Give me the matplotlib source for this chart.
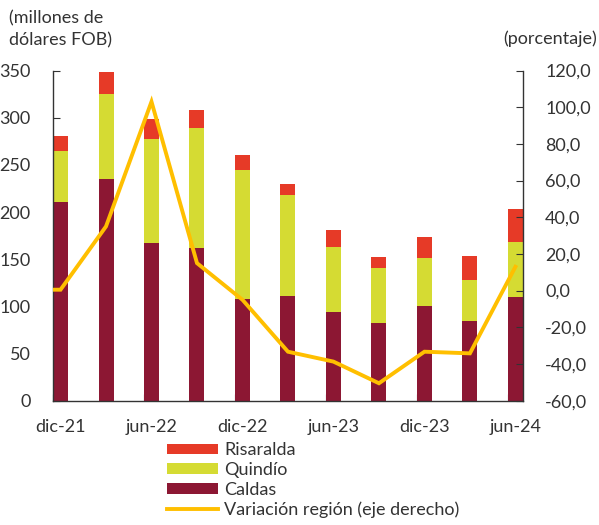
import matplotlib.pyplot as plt
from matplotlib.patches import Patch
from matplotlib.lines import Line2D
import numpy as np

plt.rcParams['font.family'] = ['Lato', 'DejaVu Sans']

periodos = ['dic-21', 'mar-22', 'jun-22', 'sep-22', 'dic-22', 'mar-23',
            'jun-23', 'sep-23', 'dic-23', 'mar-24', 'jun-24']
caldas = [211, 235, 167, 162, 108, 111, 94, 82, 100, 84, 110]
quindio = [54, 90, 110, 127, 137, 107, 69, 59, 51, 44, 58]
risaralda = [16, 23, 22, 19, 15, 12, 18, 11, 22, 25, 35]
variacion = [0.5, 35.0, 103.0, 15.0, -5.0, -33.3, -38.7, -50.5, -33.3, -34.2, 13.0]

c_caldas = '#8C1733'
c_quindio = '#D5DB33'
c_risaralda = '#E63A27'
c_linea = '#FFBF00'
c_texto = '#333333'

fig = plt.figure(figsize=(5.99, 5.25), dpi=100)
ax = fig.add_axes([0.0885, 0.2368, 0.7845, 0.6289])
ax2 = ax.twinx()

x = np.arange(len(periodos))
w = 0.33
caldas = np.array(caldas)
quindio = np.array(quindio)
risaralda = np.array(risaralda)
ax.bar(x, caldas, w, color=c_caldas, zorder=2)
ax.bar(x, quindio, w, bottom=caldas, color=c_quindio, zorder=2)
ax.bar(x, risaralda, w, bottom=caldas + quindio, color=c_risaralda, zorder=2)

# the line starts flat at the left axis, as in the original
ax2.plot(np.r_[-w / 2, x], np.r_[variacion[0], variacion], color=c_linea,
         lw=2.8, solid_joinstyle='miter', zorder=3)

ax.set_xlim(-w / 2, len(x) - 1 + w / 2)
ax.set_ylim(0, 350)
ax.set_yticks(np.arange(0, 351, 50))
ax2.set_ylim(-60, 120)
ax2.set_yticks(np.arange(-60, 121, 20))
ax2.set_yticklabels([f'{v:.1f}'.replace('.', ',') for v in np.arange(-60, 121, 20)])

# tick marks at the left edge of every second bar, labels under the bars
ax.set_xticks(x[::2] - w / 2)
ax.set_xticklabels([])
ax.set_xticks(x[::2], minor=True)
ax.set_xticklabels(periodos[::2], minor=True)
ax.tick_params(axis='x', which='major', direction='in', length=5, color=c_texto)
ax.tick_params(axis='x', which='minor', length=0, pad=13, labelsize=13, labelcolor=c_texto)
ax.tick_params(axis='y', direction='in', length=5, pad=16, labelsize=13,
               labelcolor=c_texto, color=c_texto)
ax2.tick_params(axis='y', direction='in', length=5, pad=16, labelsize=13,
                labelcolor=c_texto, color=c_texto)

for a in (ax, ax2):
    a.spines['top'].set_visible(False)
    for s in ('left', 'right', 'bottom'):
        a.spines[s].set_color(c_texto)
        a.spines[s].set_linewidth(1.0)
ax.spines['right'].set_visible(False)
ax2.spines['left'].set_visible(False)
ax2.spines['bottom'].set_visible(False)

fig.text(0.015, 0.98, '(millones de\ndólares FOB)', ha='left', va='top',
         fontsize=13, color=c_texto, linespacing=1.45)
fig.text(0.997, 0.927, '(porcentaje)', ha='right', va='center',
         fontsize=13, color=c_texto)

handles = [Patch(facecolor=c_risaralda), Patch(facecolor=c_quindio),
           Patch(facecolor=c_caldas), Line2D([0], [0], color=c_linea, lw=2.8)]
labels = ['Risaralda', 'Quindío', 'Caldas', 'Variación región (eje derecho)']
fig.legend(handles, labels, loc='upper left', bbox_to_anchor=(0.2788, 0.1573),
           frameon=False, fontsize=13, labelcolor=c_texto, handlelength=2.85,
           handleheight=0.55, handletextpad=0.3, labelspacing=0.2,
           borderpad=0, borderaxespad=0)

fig.savefig('out.png', dpi=100)
